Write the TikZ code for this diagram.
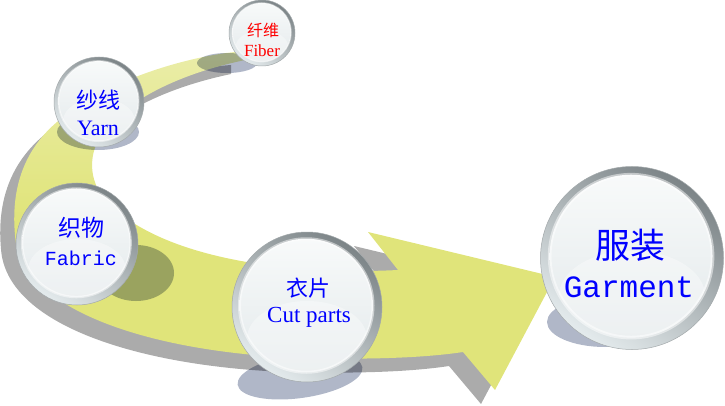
\documentclass[tikz,border=0pt]{standalone}
\usepackage{fontspec}
\setmainfont{Liberation Serif}
\newfontfamily\cjk{Noto Sans CJK SC}
\newfontfamily\monof{Liberation Mono}
\definecolor{bandY}{HTML}{E0E47A}
\definecolor{bandYl}{HTML}{EAEDA8}
\definecolor{bandS}{HTML}{ABABAB}
\definecolor{shd}{RGB}{176,183,200}
\definecolor{ringtop}{HTML}{7C8487}
\definecolor{ringbot}{HTML}{E4EBED}
\definecolor{intop}{HTML}{F8FAFA}
\definecolor{inmid}{HTML}{D9E0E3}
\definecolor{inbot}{HTML}{E3E9EB}
\definecolor{txtblue}{HTML}{0000FF}
\definecolor{txtred}{HTML}{FF0000}
\tikzset{
  sphere/.style={circle, inner sep=0pt, minimum size=2*#1, draw=ringtop!70, line width=0.5pt,
    top color=ringtop, bottom color=ringbot, shading angle=-35,
    path picture={
      \begin{scope}
      \path[clip] ([xshift=-0.01*#1, yshift=0.02*#1]path picture bounding box.center) circle[radius=0.89*#1];
      \shade[top color=intop, middle color=inmid, bottom color=inbot]
        ([xshift=-0.01*#1, yshift=0.02*#1]path picture bounding box.center) circle[radius=0.89*#1];
      \fill[white, opacity=0.35] ([yshift=-0.42*#1]path picture bounding box.center)
        ellipse[x radius=0.8*#1, y radius=0.5*#1];
      \end{scope}
      \draw[white, opacity=0.5, line width=0.04*#1] ([xshift=-0.01*#1, yshift=0.02*#1]path picture bounding box.center) circle[radius=0.89*#1];
    }},
  txt/.style={inner sep=0pt, text=txtblue},
  ballshadow/.style={fill=shd, blend mode=multiply},
}
\newcommand{\bandpath}{(245,51) .. controls (190,55) and (105,80) .. (57,122)
  .. controls (30,145) and (10,180) .. (15,235)
  .. controls (20,310) and (150,352) .. (300,358)
  .. controls (380,360) and (430,357) .. (463,352)
  -- (495,390) -- (555,277) -- (368,232) -- (398,270)
  .. controls (300,275) and (170,262) .. (110,205)
  .. controls (92,188) and (88,165) .. (96,145)
  .. controls (105,120) and (150,80) .. (245,60) -- cycle}
\begin{document}
\begin{tikzpicture}[x=1pt,y=-1pt]
\useasboundingbox (0,0) rectangle (725,406);
% band shadow and band
\fill[bandS, shift={(-14,14)}] \bandpath;
\shade[top color=bandYl, bottom color=bandY, middle color=bandY] \bandpath;
% ball shadows
\fill[ballshadow] (227,63) ellipse [x radius=30pt, y radius=10pt];
\fill[ballshadow] (98,132) ellipse [x radius=41pt, y radius=18pt];
\fill[ballshadow] (136,273) ellipse [x radius=38pt, y radius=28pt];
\fill[ballshadow, rotate around={8:(300,376)}] (300,376) ellipse [x radius=63pt, y radius=22pt];
\fill[ballshadow] (605,322) ellipse [x radius=58pt, y radius=25pt];
% spheres
\node[sphere=33pt] (fiber) at (262,33) {};
\node[sphere=45pt] (yarn) at (99,102) {};
\node[sphere=61pt] (fabric) at (77,244) {};
\node[sphere=75pt] (cut) at (307,307) {};
\node[sphere=91.5pt] (garment) at (632,258) {};
% texts
\node[txt, text=txtred, font=\cjk\fontsize{16}{16}\selectfont] (fiberzh) at (263,30) {纤维};
\node[txt, text=txtred, font=\fontsize{17}{17}\selectfont] (fiberen) at (262,51) {Fiber};
\node[txt, font=\cjk\fontsize{22}{22}\selectfont] (yarnzh) at (98,100) {纱线};
\node[txt, font=\fontsize{22}{22}\selectfont] (yarnen) at (98,128) {Yarn};
\node[txt, font=\cjk\fontsize{23}{23}\selectfont] (fabriczh) at (81,228) {织物};
\node[txt, font=\monof\fontsize{20}{20}\selectfont] (fabricen) at (81,258) {Fabric};
\node[txt, font=\cjk\fontsize{22}{22}\selectfont] (cutzh) at (308,288) {衣片};
\node[txt, font=\fontsize{23}{23}\selectfont] (cuten) at (309,317) {Cut parts};
\node[txt, font=\cjk\fontsize{35}{35}\selectfont] (garmentzh) at (630,245) {服装};
\node[txt, font=\monof\fontsize{31}{31}\selectfont] (garmenten) at (629,287) {Garment};
\end{tikzpicture}
\end{document}
